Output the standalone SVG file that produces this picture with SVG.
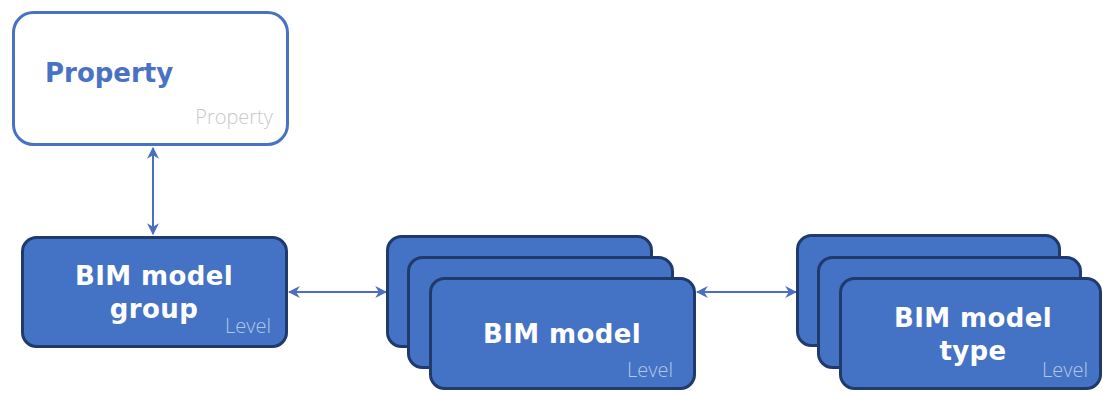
<svg xmlns="http://www.w3.org/2000/svg" width="1103" height="394" viewBox="0 0 1103 394">
  <style>
    .card { fill: #4472C4; stroke: #1F3A6B; stroke-width: 3; }
    .title { font-family: "DejaVu Sans", "Liberation Sans", sans-serif; font-weight: 700; font-size: 26px; fill: #FFFFFF; text-anchor: middle; letter-spacing: 0.4px; }
    .tag { font-family: "Open Sans", "Liberation Sans", sans-serif; font-weight: 300; font-size: 20px; fill: #B4C7E7; text-anchor: end; }
    .link { stroke: #4A6FC0; stroke-width: 2; fill: none; marker-start: url(#head); marker-end: url(#head); }
  </style>
  <defs>
    <marker id="head" viewBox="0 0 10 10" refX="9" refY="5" markerWidth="6" markerHeight="6" orient="auto-start-reverse" markerUnits="strokeWidth">
      <path d="M0,0 L10,5 L0,10 L3,5 Z" fill="#4A6FC0"/>
    </marker>
  </defs>
  <rect width="1103" height="394" fill="#FFFFFF"/>

  <g id="connectors">
    <line class="link" x1="153" y1="148" x2="153" y2="234"/>
    <line class="link" x1="289" y1="292" x2="386" y2="292"/>
    <line class="link" x1="697" y1="292" x2="796" y2="292"/>
  </g>

  <g id="property">
    <rect x="13.5" y="12.5" width="274" height="132" rx="20" fill="#FFFFFF" stroke="#4A72C4" stroke-width="3"/>
    <text x="45" y="82" font-family="'DejaVu Sans', 'Liberation Sans', sans-serif" font-weight="700" font-size="26" fill="#4A72C4">Property</text>
    <text x="273" y="124" font-family="'Open Sans', 'Liberation Sans', sans-serif" font-weight="300" font-size="20" fill="#C8C8C8" text-anchor="end">Property</text>
  </g>

  <g id="bim-model-group">
    <rect class="card" x="22.5" y="237.5" width="264" height="109" rx="14"/>
    <text class="title"><tspan x="154" y="285">BIM model</tspan><tspan x="154" y="318">group</tspan></text>
    <text class="tag" x="271" y="333">Level</text>
  </g>

  <g id="bim-model">
    <rect class="card" x="387.5" y="236.5" width="264" height="110" rx="14"/>
    <rect class="card" x="408.5" y="257.5" width="264" height="110" rx="14"/>
    <rect class="card" x="430.5" y="278.5" width="264" height="110" rx="14"/>
    <text class="title" x="562" y="343">BIM model</text>
    <text class="tag" x="673" y="377">Level</text>
  </g>

  <g id="bim-model-type">
    <rect class="card" x="797.5" y="235.5" width="262" height="110" rx="14"/>
    <rect class="card" x="818.5" y="257.5" width="262" height="110" rx="14"/>
    <rect class="card" x="840.5" y="278.5" width="260" height="110" rx="14"/>
    <text class="title"><tspan x="973" y="327">BIM model</tspan><tspan x="973" y="360">type</tspan></text>
    <text class="tag" x="1088" y="377">Level</text>
  </g>
</svg>
